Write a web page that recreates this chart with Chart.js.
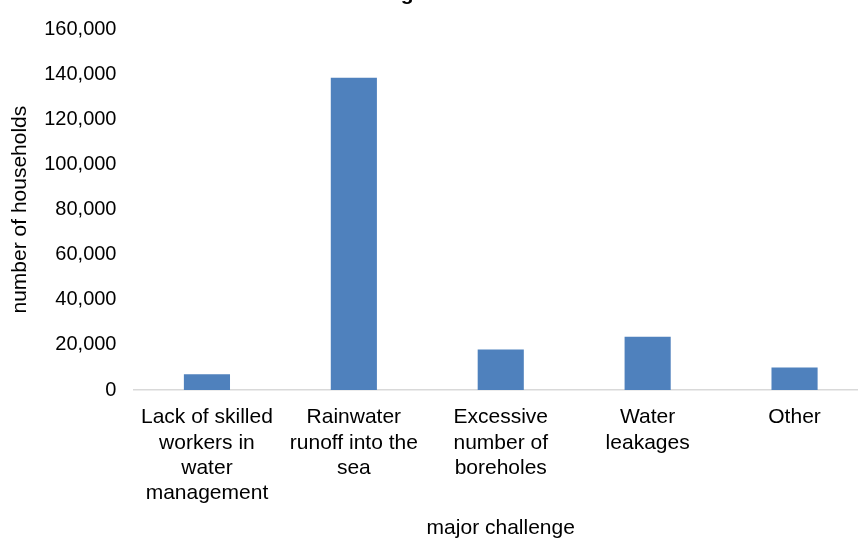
<!DOCTYPE html>
<html>
<head>
<meta charset="utf-8">
<script src="https://cdn.jsdelivr.net/npm/chart.js@4"></script>
<style>
  html, body { margin: 0; padding: 0; background: #fff; overflow: hidden; width: 858px; height: 538px; }
  #wrap { position: absolute; left: 0; top: -16px; width: 880px; height: 560px; }
</style>
</head>
<body>
<div id="wrap"><canvas id="chart"></canvas></div>
<script>
const categories = [
    ['Lack of skilled', 'workers in', 'water', 'management'],
    ['Rainwater', 'runoff into the', 'sea'],
    ['Excessive', 'number of', 'boreholes'],
    ['Water', 'leakages'],
    ['Other']
];
const households = [7000, 138500, 18000, 23600, 10000];

const fontFamily = '"Liberation Sans", Arial, sans-serif';

new Chart(document.getElementById('chart'), {
    type: 'bar',
    data: {
        labels: categories,
        datasets: [{
            data: households,
            backgroundColor: '#4F81BD',
            borderWidth: 0,
            barPercentage: 0.314,
            categoryPercentage: 1
        }]
    },
    options: {
        responsive: true,
        maintainAspectRatio: false,
        animation: false,
        layout: { padding: { left: 8, right: 12, top: 0, bottom: 3 } },
        plugins: {
            legend: { display: false },
            tooltip: { enabled: false },
            title: {
                display: true,
                text: 'according to households',
                color: '#000',
                font: { family: fontFamily, size: 21, weight: 'bold' },
                padding: { top: -2, bottom: 22 }
            }
        },
        scales: {
            x: {
                grid: { display: false, drawTicks: false },
                border: { display: true, color: '#D9D9D9', width: 1.5 },
                ticks: {
                    color: '#000',
                    padding: 15,
                    maxRotation: 0,
                    autoSkip: false,
                    font: { family: fontFamily, size: 21 }
                },
                title: {
                    display: true,
                    text: 'major challenge',
                    color: '#000',
                    padding: { top: -5, bottom: 0 },
                    font: { family: fontFamily, size: 21 }
                }
            },
            y: {
                min: 0,
                max: 160000,
                grid: { display: false, drawTicks: false },
                border: { display: false },
                ticks: {
                    stepSize: 20000,
                    color: '#000',
                    padding: 17,
                    font: { family: fontFamily, size: 20 },
                    callback: (v) => v.toLocaleString('en-US')
                },
                title: {
                    display: true,
                    text: 'number of households',
                    color: '#000',
                    padding: { top: 0, bottom: -6 },
                    font: { family: fontFamily, size: 21 }
                }
            }
        }
    }
});
</script>
</body>
</html>
